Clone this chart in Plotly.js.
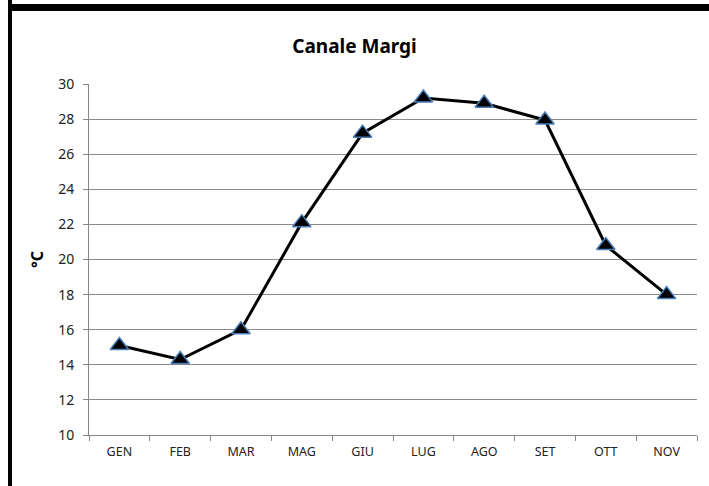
<!DOCTYPE html>
<html>
<head>
<meta charset="utf-8">
<script src="https://cdn.plot.ly/plotly-3.0.1.min.js"></script>
<style>
  html, body { margin: 0; padding: 0; background: #fff; }
  #wrap { position: relative; width: 709px; height: 486px; overflow: hidden; }
  #chart { position: absolute; left: 0; top: 0; width: 709px; height: 486px; }
  .bar { position: absolute; background: #000; }
</style>
</head>
<body>
<div id="wrap">
  <div id="chart"></div>
  <div class="bar" style="left:8px; top:0; width:4px; height:486px;"></div>
  <div class="bar" style="left:8px; top:4px; width:701px; height:7px;"></div>
</div>
<script>
const months = ["GEN", "FEB", "MAR", "MAG", "GIU", "LUG", "AGO", "SET", "OTT", "NOV"];
const temperature = [15.1, 14.3, 16.0, 22.1, 27.2, 29.2, 28.9, 27.95, 20.8, 18.0];
const yTicks = [10, 12, 14, 16, 18, 20, 22, 24, 26, 28, 30];
const chartTitle = "Canale Margi";
const yTitle = "°C";

const trace = {
  x: months,
  y: temperature,
  type: "scatter",
  mode: "lines+markers",
  line: { color: "#000000", width: 3 },
  marker: {
    symbol: "triangle-up",
    size: 16,
    color: "#000000",
    line: { color: "#4a7ebb", width: 1.5 }
  },
  hoverinfo: "skip",
  showlegend: false
};

const font = "'Noto Sans', 'Open Sans', 'Liberation Sans', sans-serif";

const layout = {
  width: 709,
  height: 486,
  margin: { l: 89, r: 12, t: 84, b: 51 },
  paper_bgcolor: "#ffffff",
  plot_bgcolor: "#ffffff",
  font: { family: font, size: 12, color: "#222222" },
  title: {
    text: "<b>" + chartTitle + "</b>",
    font: { family: font, size: 19, color: "#000000" },
    xref: "container", yref: "container",
    x: 0.5, y: 1 - 46 / 486,
    xanchor: "center", yanchor: "middle"
  },
  xaxis: {
    type: "category",
    range: [-0.5, months.length - 0.5],
    showgrid: false,
    showline: true,
    linecolor: "#868686",
    linewidth: 1,
    ticks: "outside",
    tickson: "boundaries",
    ticklen: 5,
    tickcolor: "#868686",
    ticklabelstandoff: 5,
    tickfont: { size: 12.5, color: "#222222" },
    fixedrange: true
  },
  yaxis: {
    range: [10, 30],
    tickvals: yTicks,
    ticktext: yTicks.map(String),
    showgrid: true,
    gridcolor: "#8c8c8c",
    gridwidth: 1,
    zeroline: false,
    showline: true,
    linecolor: "#868686",
    linewidth: 1,
    ticks: "outside",
    ticklen: 5,
    tickcolor: "#868686",
    ticklabelstandoff: 6,
    tickfont: { size: 14, color: "#222222" },
    title: {
      text: "<b>" + yTitle + "</b>",
      font: { family: font, size: 16, color: "#000000" },
      standoff: 10
    },
    fixedrange: true
  }
};

Plotly.newPlot("chart", [trace], layout, { staticPlot: true, displayModeBar: false });
</script>
</body>
</html>
